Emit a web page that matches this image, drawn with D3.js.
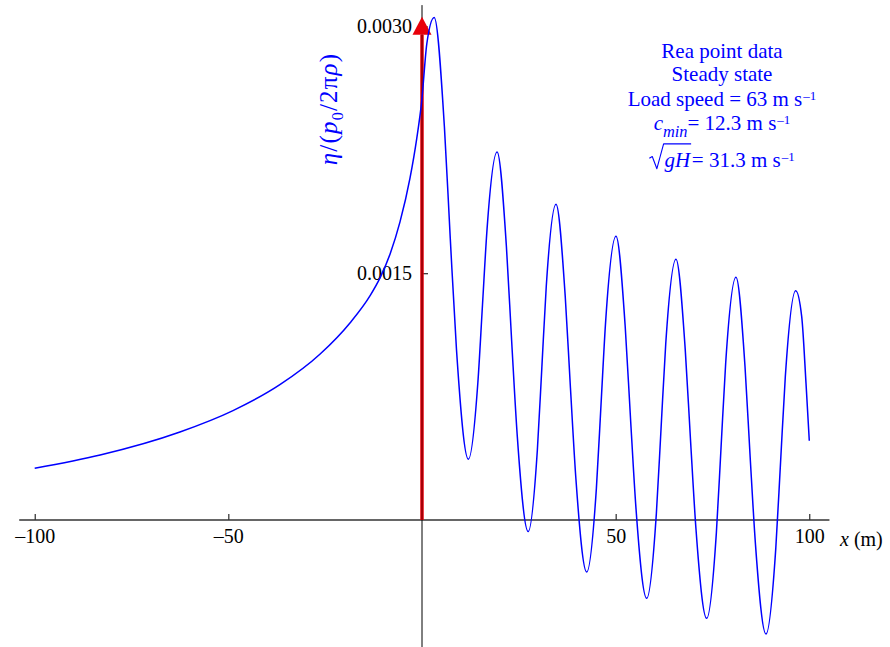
<!DOCTYPE html>
<html>
<head>
<meta charset="utf-8">
<script src="https://cdn.jsdelivr.net/npm/d3@7"></script>
<style>
  body { margin: 0; background: #fff; }
  svg { display: block; }
  text { font-family: "Liberation Serif", "Times New Roman", "DejaVu Serif", serif; }
</style>
</head>
<body>
<svg id="chart" width="890" height="647"></svg>
<script>
// Free-surface elevation along the track (x in metres, eta normalised)
const xPos = [-100, -83.1, -62.5, -48.8, -36.6, -26.3, -18.6, -13.4, -10.84, -8.26, -5.68, -3.10, -1.37, -0.08, 1.24, 3.15,
  5.80, 7.30, 8.89, 11.98,
  14.43, 15.61, 16.80, 19.39,
  21.80, 23.16, 24.61, 27.42,
  29.79, 30.94, 32.09, 34.60,
  36.98, 38.33, 39.76, 42.53,
  45.03, 46.23, 47.44, 50.09,
  52.47, 53.82, 55.24, 58.02,
  60.51, 61.72, 62.93, 65.58,
  67.96, 69.31, 70.73, 73.51,
  76.00, 77.21, 78.42, 81.07,
  83.40, 84.71, 86.11, 88.82,
  91.35, 92.58, 93.81, 96.49,
  98.04, 99.15, 100];

const eta = [0.000314, 0.000395, 0.000535, 0.000665, 0.000824, 0.001009, 0.001198, 0.001364, 0.001472, 0.001616, 0.001812, 0.002078, 0.002317, 0.002545, 0.002895, 0.003055,
  0.002384, 0.001712, 0.001041, 0.000370,
  0.000837, 0.001304, 0.001770, 0.002237,
  0.001660, 0.001084, 0.000507, -0.000070,
  0.000427, 0.000925, 0.001422, 0.001919,
  0.001360, 0.000802, 0.000243, -0.000316,
  0.000194, 0.000705, 0.001215, 0.001725,
  0.001175, 0.000625, 0.000074, -0.000476,
  0.000039, 0.000555, 0.001070, 0.001585,
  0.001039, 0.000494, -0.000052, -0.000598,
  -0.000080, 0.000439, 0.000957, 0.001475,
  0.000933, 0.000391, -0.000151, -0.000693,
  -0.000171, 0.000351, 0.000872, 0.001394,
  0.001236, 0.000831, 0.000482];

const xTicks = [-100, -50, 50, 100];
const yTicks = [0.0015, 0.0030];
const xAxisExtent = [-104, 105.2];
const yAxisExtent = [-0.00078, 0.00313];
const loadPosition = 0;
const arrowTip = 0.00306;
const arrowHeadBase = 0.00295;

// Annotation block: each line is a list of text runs
const infoLines = [
  [{ t: "Rea point data" }],
  [{ t: "Steady state" }],
  [{ t: "Load speed = 63 m s" }, { t: "–1", sup: true }],
  [{ t: "c", italic: true }, { t: "min", italic: true, sub: true }, { t: "= 12.3 m s" }, { t: "–1", sup: true }],
  [{ radical: true }, { t: "gH", italic: true, over: true }, { t: "= 31.3 m s" }, { t: "–1", sup: true }]
];
const infoBaselines = [58, 81, 106, 130, 167];

const BLUE = "#0000ff";
const RED = "#e8000b";

const svg = d3.select("#chart");
const x = d3.scaleLinear().domain([-100, 100]).range([34.7, 809.3]);
const y = d3.scaleLinear().domain([0, 0.003]).range([520, 26.5]);

// x axis
const xAxis = d3.axisBottom(x)
  .tickValues(xTicks)
  .tickSizeInner(-6)
  .tickSizeOuter(0)
  .tickPadding(9)
  .tickFormat(d => d < 0 ? "–" + Math.abs(d) : String(d));
const gx = svg.append("g").attr("transform", `translate(0,${y(0)})`).call(xAxis);
gx.select(".domain").remove();
gx.selectAll("text").attr("font-size", 20).attr("fill", "#000")
  .attr("font-family", "'Liberation Serif', serif");
gx.selectAll("line").attr("stroke", "#000");
gx.append("line")
  .attr("x1", x(xAxisExtent[0])).attr("x2", x(xAxisExtent[1]))
  .attr("y1", 0).attr("y2", 0)
  .attr("stroke", "#333").attr("stroke-width", 1.3);

// y axis through the load point
const yAxis = d3.axisLeft(y)
  .tickValues(yTicks)
  .tickSizeInner(-6)
  .tickSizeOuter(0)
  .tickPadding(10)
  .tickFormat(d3.format(".4f"));
const gy = svg.append("g").attr("transform", `translate(${x(loadPosition)},0)`).call(yAxis);
gy.select(".domain").remove();
gy.selectAll("text").attr("font-size", 20).attr("fill", "#000")
  .attr("font-family", "'Liberation Serif', serif");
gy.selectAll("line").attr("stroke", "#000");
gy.append("line")
  .attr("x1", 0).attr("x2", 0)
  .attr("y1", y(yAxisExtent[1])).attr("y2", y(yAxisExtent[0]))
  .attr("stroke", "#000").attr("stroke-width", 1);

// load arrow
svg.append("line")
  .attr("x1", x(loadPosition)).attr("x2", x(loadPosition))
  .attr("y1", y(0)).attr("y2", y(arrowHeadBase))
  .attr("stroke", RED).attr("stroke-width", 3.5);
svg.append("line")
  .attr("x1", x(loadPosition)).attr("x2", x(loadPosition))
  .attr("y1", y(0)).attr("y2", y(arrowHeadBase))
  .attr("stroke", "#400").attr("stroke-width", 0.8);
const hw = 9.5;
svg.append("path")
  .attr("d", `M${x(loadPosition)},${y(arrowTip)} L${x(loadPosition) + hw},${y(arrowHeadBase)} L${x(loadPosition) - hw},${y(arrowHeadBase)} Z`)
  .attr("fill", RED);

// elevation curve
const line = d3.line()
  .x(d => x(d[0]))
  .y(d => y(d[1]))
  .curve(d3.curveMonotoneX);
svg.append("path")
  .datum(d3.zip(xPos, eta))
  .attr("d", line)
  .attr("fill", "none")
  .attr("stroke", BLUE)
  .attr("stroke-width", 1.5);

// axis titles
const xt = svg.append("text").attr("x", 840).attr("y", 546).attr("font-size", 20).attr("fill", "#000");
xt.append("tspan").attr("font-style", "italic").text("x");
xt.append("tspan").text(" (m)");

const yt = svg.append("text")
  .attr("transform", "translate(337,109) rotate(-90)")
  .attr("text-anchor", "middle")
  .attr("font-size", 25)
  .attr("letter-spacing", 1.2)
  .attr("fill", BLUE);
yt.append("tspan").attr("font-style", "italic").text("η");
yt.append("tspan").text("/(");
yt.append("tspan").attr("font-style", "italic").text("p");
yt.append("tspan").attr("font-size", 16).attr("dy", 6).text("0");
yt.append("tspan").attr("dy", -6).text("/2π");
yt.append("tspan").attr("font-style", "italic").text("ρ");
yt.append("tspan").text(")");

// annotation block, centred line by line
function richLine(parts, cx, baseline, size) {
  const g = svg.append("g");
  let cursor = 0;
  const overs = [];
  let radicalAt = null;
  parts.forEach(p => {
    if (p.radical) {
      radicalAt = cursor;
      cursor += size * 0.72;
      return;
    }
    let fs = size, dy = 0;
    if (p.sup) { fs = size * 0.62; dy = -0.3 * size; }
    if (p.sub) { fs = size * 0.78; dy = 0.33 * size; }
    const t = g.append("text")
      .attr("x", cursor + (p.sup ? 1 : 0))
      .attr("y", baseline + dy)
      .attr("font-size", fs)
      .attr("font-style", p.italic ? "italic" : "normal")
      .attr("fill", BLUE)
      .style("white-space", "pre")
      .text(p.t);
    const w = t.node().getComputedTextLength() + (p.sup ? 1 : 0);
    if (p.over) overs.push([cursor, cursor + w]);
    cursor += w + (p.over ? size * 0.08 : 0);
  });
  if (radicalAt !== null && overs.length) {
    const a = radicalAt, b = baseline, top = b - size * 1.1;
    const end = overs[0][1] + 1;
    g.append("path")
      .attr("d", `M${a},${b - size * 0.42} L${a + size * 0.14},${b - size * 0.5} L${a + size * 0.36},${b + size * 0.08} L${a + size * 0.68},${top} L${end},${top}`)
      .attr("fill", "none")
      .attr("stroke", BLUE)
      .attr("stroke-width", 1.1)
      .attr("stroke-linejoin", "round");
  }
  g.attr("transform", `translate(${cx - cursor / 2},0)`);
}
infoLines.forEach((parts, i) => richLine(parts, 722, infoBaselines[i], 21));
</script>
</body>
</html>
